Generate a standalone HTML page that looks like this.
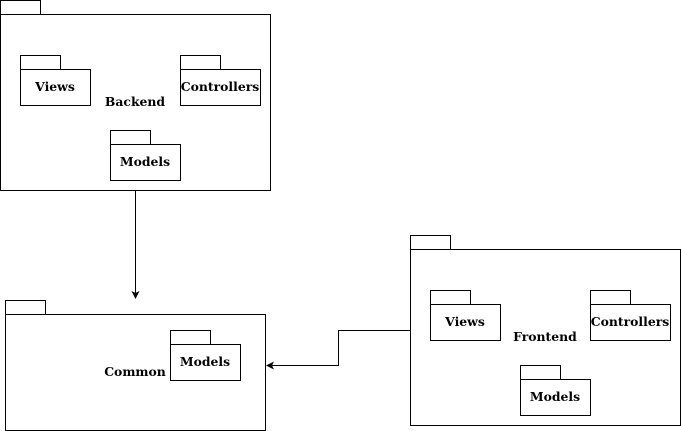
<!DOCTYPE html>
<html><head><style>body{margin:0;background:#fff}svg{display:block}text{font-family:"DejaVu Serif",serif;font-weight:bold;font-size:12.4px;fill:#000}</style></head><body>
<svg width="681" height="431" viewBox="0 0 681 431" xmlns="http://www.w3.org/2000/svg">
<g fill="none" stroke="#000" stroke-width="1">
<rect x="0.5" y="0.5" width="40" height="14"/>
<rect x="0.5" y="14.5" width="270" height="176"/>
<rect x="20.5" y="55.5" width="40" height="14"/>
<rect x="20.5" y="69.5" width="70" height="36"/>
<rect x="180.5" y="55.5" width="40" height="14"/>
<rect x="180.5" y="69.5" width="80" height="36"/>
<rect x="110.5" y="130.5" width="40" height="14"/>
<rect x="110.5" y="144.5" width="70" height="36"/>
<rect x="5.5" y="300.5" width="40" height="14"/>
<rect x="5.5" y="314.5" width="260" height="116"/>
<rect x="170.5" y="330.5" width="40" height="14"/>
<rect x="170.5" y="344.5" width="70" height="36"/>
<rect x="410.5" y="235.5" width="40" height="14"/>
<rect x="410.5" y="249.5" width="270" height="176"/>
<rect x="430.5" y="290.5" width="40" height="14"/>
<rect x="430.5" y="304.5" width="70" height="36"/>
<rect x="590.5" y="290.5" width="40" height="14"/>
<rect x="590.5" y="304.5" width="80" height="36"/>
<rect x="520.5" y="365.5" width="40" height="14"/>
<rect x="520.5" y="379.5" width="70" height="36"/>
<path d="M135.5 191 V294"/>
<path d="M410 330.5 H338.5 V365.5 H272"/>
</g>
<polygon points="135.5,299 131.5,291 135.5,293 139.5,291" fill="#000"/>
<polygon points="266,365.5 274,361.5 272,365.5 274,369.5" fill="#000"/>
<text x="55" y="91" text-anchor="middle">Views</text>
<text x="220" y="91" text-anchor="middle">Controllers</text>
<text x="135" y="106" text-anchor="middle">Backend</text>
<text x="145" y="166" text-anchor="middle">Models</text>
<text x="205" y="366" text-anchor="middle">Models</text>
<text x="135" y="376" text-anchor="middle">Common</text>
<text x="465" y="326" text-anchor="middle">Views</text>
<text x="630" y="326" text-anchor="middle">Controllers</text>
<text x="545" y="341" text-anchor="middle">Frontend</text>
<text x="555" y="401" text-anchor="middle">Models</text>
</svg>
</body></html>
